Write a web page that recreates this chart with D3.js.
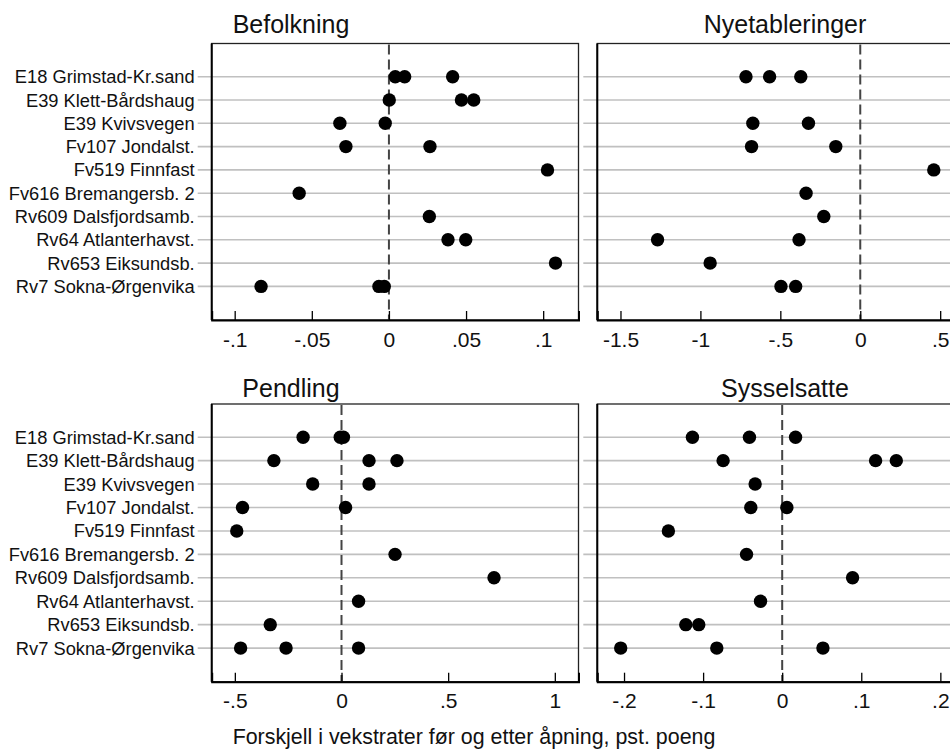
<!DOCTYPE html>
<html>
<head>
<meta charset="utf-8">
<script src="https://cdn.jsdelivr.net/npm/d3@7"></script>
<style>
  html, body { margin: 0; padding: 0; background: #fff; }
  svg { display: block; }
  text { font-family: "Liberation Sans", Arial, Helvetica, sans-serif; fill: #111; }
</style>
</head>
<body>
<svg id="chart" width="950" height="751"></svg>
<script>
// ---------------- data ----------------
const categories = [
  "E18 Grimstad-Kr.sand",
  "E39 Klett-Bårdshaug",
  "E39 Kvivsvegen",
  "Fv107 Jondalst.",
  "Fv519 Finnfast",
  "Fv616 Bremangersb. 2",
  "Rv609 Dalsfjordsamb.",
  "Rv64 Atlanterhavst.",
  "Rv653 Eiksundsb.",
  "Rv7 Sokna-Ørgenvika"
];

// values per category (each row may hold several estimates)
const befolkning = [
  [0.0041, 0.0102, 0.0413],
  [0.0002, 0.047, 0.055],
  [-0.0318, -0.0024],
  [-0.0279, 0.0266],
  [0.1028],
  [-0.0582],
  [0.0262],
  [0.0383, 0.0498],
  [0.108],
  [-0.0829, -0.0065, -0.003]
];
const nyetableringer = [
  [-0.715, -0.567, -0.372],
  [],
  [-0.672, -0.324],
  [-0.680, -0.153],
  [0.460],
  [-0.339],
  [-0.228],
  [-1.268, -0.383],
  [-0.939],
  [-0.496, -0.404]
];
const pendling = [
  [-0.180, -0.006, 0.009],
  [-0.317, 0.129, 0.260],
  [-0.135, 0.129],
  [-0.464, 0.019],
  [-0.491],
  [0.251],
  [0.715],
  [0.080],
  [-0.334],
  [-0.473, -0.260, 0.080]
];
const sysselsatte = [
  [-0.1135, -0.0414, 0.0169],
  [-0.0747, 0.1181, 0.1443],
  [-0.0342],
  [-0.0397, 0.0059],
  [-0.1439],
  [-0.0451],
  [0.0890],
  [-0.0274],
  [-0.1219, -0.1055],
  [-0.2042, -0.0827, 0.0515]
];

const panelTitles = ["Befolkning", "Nyetableringer", "Pendling", "Sysselsatte"];

const befTicks = [-0.1, -0.05, 0, 0.05, 0.1];
const befTickLabels = ["-.1", "-.05", "0", ".05", ".1"];
const nyeTicks = [-1.5, -1, -0.5, 0, 0.5];
const nyeTickLabels = ["-1.5", "-1", "-.5", "0", ".5"];
const penTicks = [-0.5, 0, 0.5, 1];
const penTickLabels = ["-.5", "0", ".5", "1"];
const sysTicks = [-0.2, -0.1, 0, 0.1, 0.2];
const sysTickLabels = ["-.2", "-.1", "0", ".1", ".2"];

const xTitle = "Forskjell i vekstrater før og etter åpning, pst. poeng";

// ---------------- layout ----------------
const svg = d3.select("#chart");

const panels = [
  { title: panelTitles[0], data: befolkning, ticks: befTicks, labels: befTickLabels,
    domain: [-0.1149, 0.1229], x0: 211.7, x1: 578.5, y0: 43.5, y1: 320, titleX: 291, titleY: 33.3, showLabels: true },
  { title: panelTitles[1], data: nyetableringer, ticks: nyeTicks, labels: nyeTickLabels,
    domain: [-1.645, 0.649], x0: 597.3, x1: 964, y0: 43.5, y1: 320, titleX: 785, titleY: 33.3, showLabels: false },
  { title: panelTitles[2], data: pendling, ticks: penTicks, labels: penTickLabels,
    domain: [-0.6085, 1.111], x0: 211.7, x1: 578.5, y0: 404, y1: 681.7, titleX: 291, titleY: 396.8, showLabels: true },
  { title: panelTitles[3], data: sysselsatte, ticks: sysTicks, labels: sysTickLabels,
    domain: [-0.2338, 0.2299], x0: 597.3, x1: 964, y0: 404, y1: 681.7, titleX: 785, titleY: 396.8, showLabels: false }
];

panels.forEach(p => {
  const g = svg.append("g");
  const x = d3.scaleLinear().domain(p.domain).range([p.x0, p.x1]);
  const y = d3.scalePoint().domain(categories).range([p.y0 + 33.2, p.y1 - 33.6]);

  // title
  g.append("text")
    .attr("x", p.titleX).attr("y", p.titleY)
    .attr("text-anchor", "middle")
    .style("font-size", "25px")
    .text(p.title);

  // gridlines + y ticks
  g.selectAll(".grid").data(categories).enter().append("line")
    .attr("x1", p.x0 - 14).attr("x2", p.x1)
    .attr("y1", d => y(d)).attr("y2", d => y(d))
    .attr("stroke", "#c0c0c0").attr("stroke-width", 1.6);

  if (p.showLabels) {
    g.selectAll(".ylab").data(categories).enter().append("text")
      .attr("x", p.x0 - 17).attr("y", d => y(d))
      .attr("text-anchor", "end")
      .attr("dominant-baseline", "central")
      .style("font-size", "18.3px")
      .text(d => d);
  }

  // frame
  g.append("rect")
    .attr("x", p.x0).attr("y", p.y0)
    .attr("width", p.x1 - p.x0).attr("height", p.y1 - p.y0)
    .attr("fill", "none").attr("stroke", "#222").attr("stroke-width", 1.3);

  // zero reference line
  g.append("line")
    .attr("x1", x(0)).attr("x2", x(0))
    .attr("y1", p.y0 + 1).attr("y2", p.y1)
    .attr("stroke", "#444").attr("stroke-width", 2)
    .attr("stroke-dasharray", "10,5");

  // x axis
  const axis = d3.axisBottom(x).tickValues(p.ticks).tickSize(-9).tickPadding(0)
    .tickFormat((d, i) => p.labels[i]);
  const ax = g.append("g").attr("transform", `translate(0,${p.y1})`).call(axis);
  ax.select(".domain").attr("stroke", "#000").attr("stroke-width", 2);
  ax.selectAll(".tick line").attr("stroke", "#000").attr("stroke-width", 1.3);
  ax.selectAll(".tick text")
    .attr("y", 26.5).attr("dy", null)
    .style("font-size", "21px")
    .style("font-family", '"Liberation Sans", Arial, sans-serif')
    .attr("fill", "#111");

  // left axis line
  g.append("line").attr("x1", p.x0).attr("x2", p.x0).attr("y1", p.y0).attr("y2", p.y1)
    .attr("stroke", "#000").attr("stroke-width", 2);

  // dots
  const pts = [];
  p.data.forEach((vals, i) => vals.forEach(v => pts.push({ cat: categories[i], v })));
  g.selectAll(".dot").data(pts).enter().append("circle")
    .attr("cx", d => x(d.v)).attr("cy", d => y(d.cat))
    .attr("r", 6.7).attr("fill", "#000");
});

svg.append("text")
  .attr("x", 474).attr("y", 744)
  .attr("text-anchor", "middle")
  .style("font-size", "21.4px")
  .text(xTitle);
</script>
</body>
</html>
